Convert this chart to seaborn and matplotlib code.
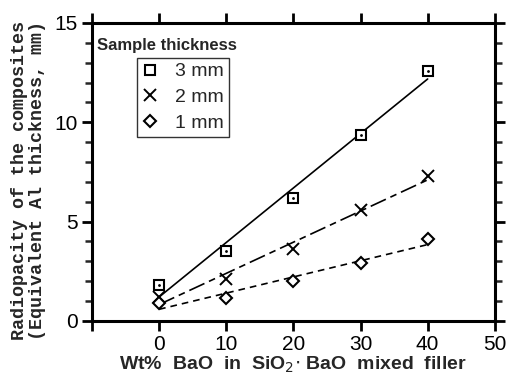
import numpy as np
import pandas as pd
import matplotlib
matplotlib.use("Agg")
import matplotlib.pyplot as plt
from matplotlib.ticker import MultipleLocator, FixedLocator
import seaborn as sns

# ---- data ----
bao_wt = [0, 10, 20, 30, 40]
thick_3mm = [1.8, 3.5, 6.2, 9.35, 12.6]
thick_2mm = [1.2, 2.1, 3.6, 5.6, 7.3]
thick_1mm = [0.9, 1.15, 2.0, 2.9, 4.1]
series_labels = ["3 mm", "2 mm", "1 mm"]
x_ticks = [-10, 0, 10, 20, 30, 40, 50]
x_tick_labels = ["", "0", "10", "20", "30", "40", "50"]
y_ticks = [0, 5, 10, 15]

sns.set_style("ticks")
plt.rcParams["font.family"] = ["Liberation Sans", "DejaVu Sans"]

fig = plt.figure(figsize=(5.08, 3.77), dpi=100)
ax = fig.add_axes([0.181, 0.149, 0.793, 0.790])

df = pd.DataFrame({"x": bao_wt * 3,
                   "y": thick_3mm + thick_2mm + thick_1mm,
                   "s": [series_labels[0]] * 5 + [series_labels[1]] * 5 + [series_labels[2]] * 5})

line_styles = {series_labels[0]: "-",
               series_labels[1]: (0, (10, 3, 4, 3)),
               series_labels[2]: (0, (4, 3))}
markers = {series_labels[0]: "s", series_labels[1]: "x", series_labels[2]: "D"}
msizes = {series_labels[0]: 7.5, series_labels[1]: 8.5, series_labels[2]: 6}

handles = []
for lab in series_labels:
    sub = df[df.s == lab]
    sns.regplot(data=sub, x="x", y="y", ax=ax, scatter=False, ci=None,
                line_kws=dict(color="black", lw=1.2, linestyle=line_styles[lab]))
    if markers[lab] == "x":
        h = ax.plot(sub.x, sub.y, linestyle="none", marker="x", ms=msizes[lab],
                    mew=1.4, color="black", zorder=5)[0]
    else:
        h = ax.plot(sub.x, sub.y, linestyle="none", marker=markers[lab], ms=msizes[lab],
                    mfc="white", mec="black", mew=1.5, zorder=5)[0]
    if lab == series_labels[0]:
        ax.plot(sub.x, sub.y, linestyle="none", marker=".", ms=2, color="black", zorder=6)
    handles.append(h)

ax.set_xlim(-10, 50)
ax.set_ylim(0, 15)
ax.xaxis.set_major_locator(FixedLocator(x_ticks))
ax.set_xticklabels(x_tick_labels)
ax.yaxis.set_major_locator(FixedLocator(y_ticks))
ax.yaxis.set_minor_locator(MultipleLocator(1))

for sp in ax.spines.values():
    sp.set_visible(True)
    sp.set_linewidth(2.2)
    sp.set_color("black")
ax.tick_params(which="major", direction="out", length=7, width=2, labelsize=15,
               top=True, right=True, pad=3, colors="black")
ax.tick_params(which="minor", direction="out", length=5, width=1.8, left=True, right=True)
ax.tick_params(axis="x", pad=3)

ax.set_xlabel("Wt%  BaO  in  SiO$_2$$\\cdot$ BaO  mixed  filler", fontsize=14,
              fontweight="bold")
ax.xaxis.set_label_coords(0.5, -0.113)
ax.xaxis.label.set_va("top")
ax.set_ylabel("Radiopacity of the composites\n(Equivalent Al thickness, mm)",
              fontsize=13.2, fontweight="bold", family="Liberation Mono",
              linespacing=1.05)
ax.yaxis.set_label_coords(-0.115, 0.47)

ax.text(0.012, 0.925, "Sample thickness", transform=ax.transAxes, fontsize=12,
        fontweight="bold", va="center", ha="left")
leg = ax.legend(handles, series_labels, loc="upper left", bbox_to_anchor=(0.112, 0.883),
                frameon=True, fancybox=False, fontsize=14, handlelength=0.8,
                handletextpad=0.9, borderpad=0.25, labelspacing=0.42, borderaxespad=0)
leg.get_frame().set_edgecolor("black")
leg.get_frame().set_linewidth(1.0)

fig.savefig("out.png", dpi=100)
